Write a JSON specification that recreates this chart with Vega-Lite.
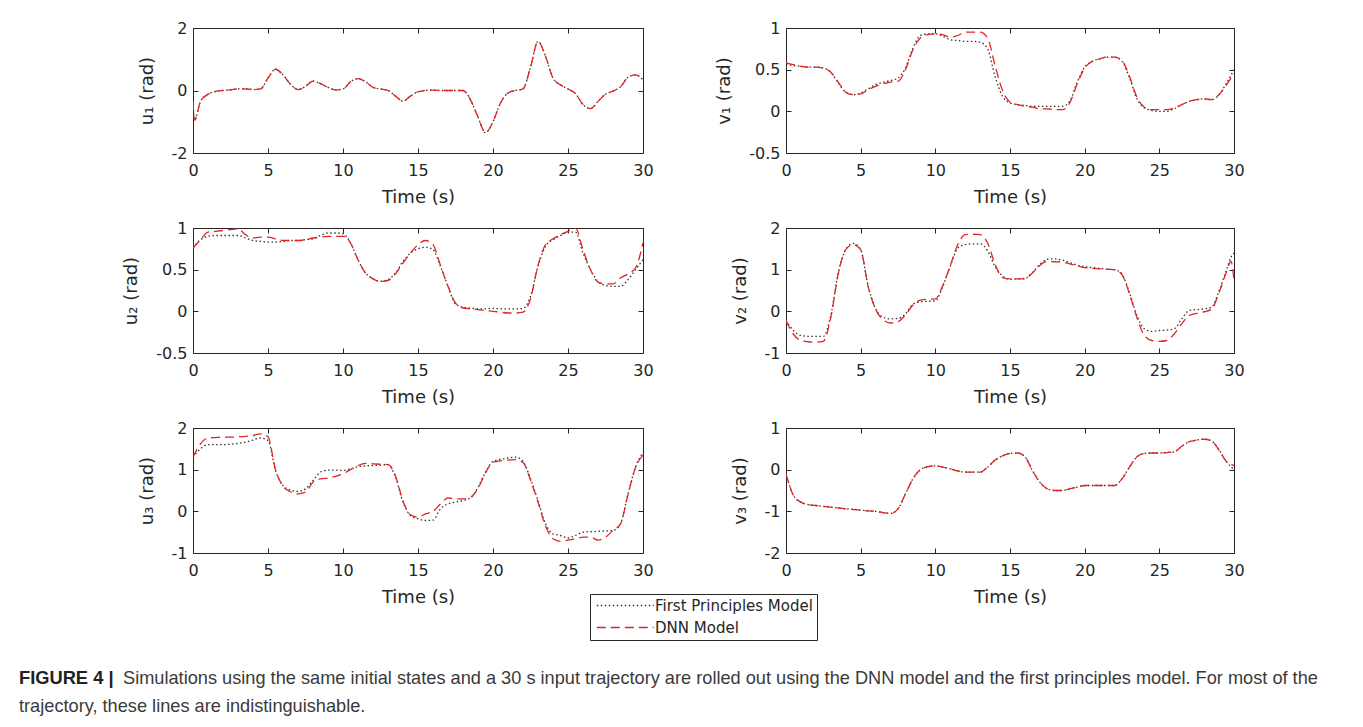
{
"$schema": "https://vega.github.io/schema/vega-lite/v6.json",
"padding": {"left": 19, "top": 19, "right": 5, "bottom": 5},
"datasets": {
"caption": [
{"line": 1, "part": "bold", "text": "FIGURE 4 |"},
{"line": 1, "part": "rest1", "text": "Simulations using the same initial states and a 30 s input trajectory are rolled out using the DNN model and the first principles model. For most of the"},
{"line": 2, "part": "rest2", "text": "trajectory, these lines are indistinguishable."}
],
"sim": [
{"p":"u1","t":0,"fp":-0.35,"dnn":-0.35},{"p":"u1","t":0.1,"fp":-0.95,"dnn":-0.95},{"p":"u1","t":0.5,"fp":-0.35,"dnn":-0.35},{"p":"u1","t":1,"fp":-0.12,"dnn":-0.12},{"p":"u1","t":1.5,"fp":-0.03,"dnn":-0.03},{"p":"u1","t":2,"fp":0,"dnn":0},{"p":"u1","t":2.5,"fp":0.02,"dnn":0.02},{"p":"u1","t":3,"fp":0.05,"dnn":0.05},{"p":"u1","t":3.5,"fp":0.05,"dnn":0.05},{"p":"u1","t":4,"fp":0.03,"dnn":0.03},{"p":"u1","t":4.5,"fp":0.05,"dnn":0.05},{"p":"u1","t":5,"fp":0.4,"dnn":0.4},{"p":"u1","t":5.5,"fp":0.68,"dnn":0.68},{"p":"u1","t":6,"fp":0.5,"dnn":0.5},{"p":"u1","t":6.5,"fp":0.2,"dnn":0.2},{"p":"u1","t":7,"fp":0.03,"dnn":0.03},{"p":"u1","t":7.5,"fp":0.13,"dnn":0.13},{"p":"u1","t":8,"fp":0.3,"dnn":0.3},{"p":"u1","t":8.5,"fp":0.22,"dnn":0.22},{"p":"u1","t":9,"fp":0.1,"dnn":0.1},{"p":"u1","t":9.5,"fp":0.02,"dnn":0.02},{"p":"u1","t":10,"fp":0.05,"dnn":0.05},{"p":"u1","t":10.5,"fp":0.28,"dnn":0.28},{"p":"u1","t":11,"fp":0.38,"dnn":0.38},{"p":"u1","t":11.5,"fp":0.28,"dnn":0.28},{"p":"u1","t":12,"fp":0.1,"dnn":0.1},{"p":"u1","t":12.5,"fp":0.05,"dnn":0.05},{"p":"u1","t":13,"fp":0,"dnn":0},{"p":"u1","t":13.5,"fp":-0.18,"dnn":-0.18},{"p":"u1","t":14,"fp":-0.34,"dnn":-0.34},{"p":"u1","t":14.5,"fp":-0.18,"dnn":-0.18},{"p":"u1","t":15,"fp":-0.04,"dnn":-0.04},{"p":"u1","t":15.5,"fp":0,"dnn":0},{"p":"u1","t":16,"fp":0.01,"dnn":0.01},{"p":"u1","t":16.5,"fp":0,"dnn":0},{"p":"u1","t":17,"fp":0,"dnn":0},{"p":"u1","t":17.5,"fp":0,"dnn":0},{"p":"u1","t":18,"fp":0,"dnn":0},{"p":"u1","t":18.5,"fp":-0.3,"dnn":-0.3},{"p":"u1","t":19,"fp":-0.85,"dnn":-0.85},{"p":"u1","t":19.5,"fp":-1.35,"dnn":-1.35},{"p":"u1","t":20,"fp":-1.0,"dnn":-1.0},{"p":"u1","t":20.5,"fp":-0.4,"dnn":-0.4},{"p":"u1","t":21,"fp":-0.08,"dnn":-0.08},{"p":"u1","t":21.5,"fp":0,"dnn":0},{"p":"u1","t":22,"fp":0.05,"dnn":0.05},{"p":"u1","t":22.5,"fp":0.75,"dnn":0.75},{"p":"u1","t":23,"fp":1.57,"dnn":1.57},{"p":"u1","t":23.5,"fp":1.1,"dnn":1.1},{"p":"u1","t":24,"fp":0.4,"dnn":0.4},{"p":"u1","t":24.5,"fp":0.18,"dnn":0.18},{"p":"u1","t":25,"fp":0.05,"dnn":0.05},{"p":"u1","t":25.5,"fp":-0.1,"dnn":-0.1},{"p":"u1","t":26,"fp":-0.45,"dnn":-0.45},{"p":"u1","t":26.5,"fp":-0.58,"dnn":-0.58},{"p":"u1","t":27,"fp":-0.35,"dnn":-0.35},{"p":"u1","t":27.5,"fp":-0.12,"dnn":-0.12},{"p":"u1","t":28,"fp":-0.02,"dnn":-0.02},{"p":"u1","t":28.5,"fp":0.12,"dnn":0.12},{"p":"u1","t":29,"fp":0.42,"dnn":0.42},{"p":"u1","t":29.5,"fp":0.5,"dnn":0.5},{"p":"u1","t":30,"fp":0.35,"dnn":0.35},
{"p":"v1","t":0,"fp":0.57,"dnn":0.58},{"p":"v1","t":0.5,"fp":0.55,"dnn":0.56},{"p":"v1","t":1,"fp":0.54,"dnn":0.54},{"p":"v1","t":1.5,"fp":0.53,"dnn":0.53},{"p":"v1","t":2,"fp":0.53,"dnn":0.53},{"p":"v1","t":2.5,"fp":0.52,"dnn":0.52},{"p":"v1","t":3,"fp":0.47,"dnn":0.47},{"p":"v1","t":3.5,"fp":0.34,"dnn":0.35},{"p":"v1","t":4,"fp":0.23,"dnn":0.23},{"p":"v1","t":4.5,"fp":0.2,"dnn":0.2},{"p":"v1","t":5,"fp":0.22,"dnn":0.21},{"p":"v1","t":5.5,"fp":0.27,"dnn":0.26},{"p":"v1","t":6,"fp":0.32,"dnn":0.3},{"p":"v1","t":6.5,"fp":0.35,"dnn":0.33},{"p":"v1","t":7,"fp":0.37,"dnn":0.35},{"p":"v1","t":7.5,"fp":0.4,"dnn":0.36},{"p":"v1","t":8,"fp":0.52,"dnn":0.5},{"p":"v1","t":8.5,"fp":0.76,"dnn":0.74},{"p":"v1","t":9,"fp":0.91,"dnn":0.88},{"p":"v1","t":9.5,"fp":0.93,"dnn":0.92},{"p":"v1","t":10,"fp":0.93,"dnn":0.93},{"p":"v1","t":10.5,"fp":0.9,"dnn":0.92},{"p":"v1","t":11,"fp":0.86,"dnn":0.89},{"p":"v1","t":11.5,"fp":0.85,"dnn":0.91},{"p":"v1","t":12,"fp":0.84,"dnn":0.95},{"p":"v1","t":12.5,"fp":0.84,"dnn":0.95},{"p":"v1","t":13,"fp":0.83,"dnn":0.95},{"p":"v1","t":13.5,"fp":0.75,"dnn":0.88},{"p":"v1","t":14,"fp":0.42,"dnn":0.55},{"p":"v1","t":14.5,"fp":0.18,"dnn":0.25},{"p":"v1","t":15,"fp":0.1,"dnn":0.11},{"p":"v1","t":15.5,"fp":0.08,"dnn":0.08},{"p":"v1","t":16,"fp":0.07,"dnn":0.06},{"p":"v1","t":16.5,"fp":0.06,"dnn":0.05},{"p":"v1","t":17,"fp":0.06,"dnn":0.03},{"p":"v1","t":17.5,"fp":0.06,"dnn":0.03},{"p":"v1","t":18,"fp":0.06,"dnn":0.02},{"p":"v1","t":18.5,"fp":0.06,"dnn":0.02},{"p":"v1","t":19,"fp":0.12,"dnn":0.1},{"p":"v1","t":19.5,"fp":0.35,"dnn":0.33},{"p":"v1","t":20,"fp":0.53,"dnn":0.52},{"p":"v1","t":20.5,"fp":0.6,"dnn":0.6},{"p":"v1","t":21,"fp":0.63,"dnn":0.63},{"p":"v1","t":21.5,"fp":0.65,"dnn":0.65},{"p":"v1","t":22,"fp":0.65,"dnn":0.65},{"p":"v1","t":22.5,"fp":0.6,"dnn":0.61},{"p":"v1","t":23,"fp":0.4,"dnn":0.42},{"p":"v1","t":23.5,"fp":0.15,"dnn":0.17},{"p":"v1","t":24,"fp":0.04,"dnn":0.05},{"p":"v1","t":24.5,"fp":0.01,"dnn":0.02},{"p":"v1","t":25,"fp":0,"dnn":0.02},{"p":"v1","t":25.5,"fp":0,"dnn":0.02},{"p":"v1","t":26,"fp":0.03,"dnn":0.04},{"p":"v1","t":26.5,"fp":0.08,"dnn":0.08},{"p":"v1","t":27,"fp":0.12,"dnn":0.12},{"p":"v1","t":27.5,"fp":0.14,"dnn":0.14},{"p":"v1","t":28,"fp":0.15,"dnn":0.15},{"p":"v1","t":28.5,"fp":0.14,"dnn":0.14},{"p":"v1","t":29,"fp":0.2,"dnn":0.2},{"p":"v1","t":29.5,"fp":0.34,"dnn":0.32},{"p":"v1","t":30,"fp":0.5,"dnn":0.45},
{"p":"u2","t":0,"fp":0.76,"dnn":0.76},{"p":"u2","t":0.5,"fp":0.86,"dnn":0.86},{"p":"u2","t":1,"fp":0.9,"dnn":0.95},{"p":"u2","t":1.5,"fp":0.91,"dnn":0.96},{"p":"u2","t":2,"fp":0.91,"dnn":0.97},{"p":"u2","t":2.5,"fp":0.91,"dnn":0.98},{"p":"u2","t":3,"fp":0.91,"dnn":0.99},{"p":"u2","t":3.5,"fp":0.88,"dnn":0.92},{"p":"u2","t":4,"fp":0.85,"dnn":0.88},{"p":"u2","t":4.5,"fp":0.84,"dnn":0.89},{"p":"u2","t":5,"fp":0.83,"dnn":0.89},{"p":"u2","t":5.5,"fp":0.83,"dnn":0.87},{"p":"u2","t":6,"fp":0.84,"dnn":0.85},{"p":"u2","t":6.5,"fp":0.85,"dnn":0.85},{"p":"u2","t":7,"fp":0.85,"dnn":0.85},{"p":"u2","t":7.5,"fp":0.86,"dnn":0.86},{"p":"u2","t":8,"fp":0.87,"dnn":0.88},{"p":"u2","t":8.5,"fp":0.91,"dnn":0.89},{"p":"u2","t":9,"fp":0.94,"dnn":0.9},{"p":"u2","t":9.5,"fp":0.94,"dnn":0.9},{"p":"u2","t":10,"fp":0.93,"dnn":0.9},{"p":"u2","t":10.5,"fp":0.82,"dnn":0.82},{"p":"u2","t":11,"fp":0.62,"dnn":0.62},{"p":"u2","t":11.5,"fp":0.46,"dnn":0.46},{"p":"u2","t":12,"fp":0.39,"dnn":0.39},{"p":"u2","t":12.5,"fp":0.36,"dnn":0.36},{"p":"u2","t":13,"fp":0.38,"dnn":0.37},{"p":"u2","t":13.5,"fp":0.46,"dnn":0.45},{"p":"u2","t":14,"fp":0.6,"dnn":0.58},{"p":"u2","t":14.5,"fp":0.7,"dnn":0.7},{"p":"u2","t":15,"fp":0.75,"dnn":0.8},{"p":"u2","t":15.5,"fp":0.77,"dnn":0.85},{"p":"u2","t":16,"fp":0.74,"dnn":0.8},{"p":"u2","t":16.5,"fp":0.54,"dnn":0.55},{"p":"u2","t":17,"fp":0.3,"dnn":0.3},{"p":"u2","t":17.5,"fp":0.09,"dnn":0.1},{"p":"u2","t":18,"fp":0.05,"dnn":0.04},{"p":"u2","t":18.5,"fp":0.04,"dnn":0.03},{"p":"u2","t":19,"fp":0.03,"dnn":0.02},{"p":"u2","t":19.5,"fp":0.03,"dnn":0.01},{"p":"u2","t":20,"fp":0.035,"dnn":0},{"p":"u2","t":20.5,"fp":0.03,"dnn":-0.01},{"p":"u2","t":21,"fp":0.03,"dnn":-0.02},{"p":"u2","t":21.5,"fp":0.03,"dnn":-0.02},{"p":"u2","t":22,"fp":0.035,"dnn":-0.01},{"p":"u2","t":22.5,"fp":0.18,"dnn":0.15},{"p":"u2","t":23,"fp":0.54,"dnn":0.55},{"p":"u2","t":23.5,"fp":0.78,"dnn":0.8},{"p":"u2","t":24,"fp":0.86,"dnn":0.87},{"p":"u2","t":24.5,"fp":0.91,"dnn":0.92},{"p":"u2","t":25,"fp":0.95,"dnn":0.96},{"p":"u2","t":25.5,"fp":0.95,"dnn":1.0},{"p":"u2","t":26,"fp":0.7,"dnn":0.74},{"p":"u2","t":26.5,"fp":0.5,"dnn":0.5},{"p":"u2","t":27,"fp":0.36,"dnn":0.35},{"p":"u2","t":27.5,"fp":0.31,"dnn":0.33},{"p":"u2","t":28,"fp":0.3,"dnn":0.33},{"p":"u2","t":28.5,"fp":0.3,"dnn":0.4},{"p":"u2","t":29,"fp":0.38,"dnn":0.45},{"p":"u2","t":29.5,"fp":0.5,"dnn":0.52},{"p":"u2","t":30,"fp":0.62,"dnn":0.82},
{"p":"v2","t":0,"fp":-0.22,"dnn":-0.22},{"p":"v2","t":0.5,"fp":-0.46,"dnn":-0.55},{"p":"v2","t":1,"fp":-0.58,"dnn":-0.7},{"p":"v2","t":1.5,"fp":-0.6,"dnn":-0.73},{"p":"v2","t":2,"fp":-0.6,"dnn":-0.74},{"p":"v2","t":2.5,"fp":-0.6,"dnn":-0.72},{"p":"v2","t":3,"fp":-0.1,"dnn":-0.15},{"p":"v2","t":3.5,"fp":0.93,"dnn":0.9},{"p":"v2","t":4,"fp":1.48,"dnn":1.48},{"p":"v2","t":4.5,"fp":1.63,"dnn":1.6},{"p":"v2","t":5,"fp":1.48,"dnn":1.48},{"p":"v2","t":5.5,"fp":0.61,"dnn":0.6},{"p":"v2","t":6,"fp":0.06,"dnn":0.05},{"p":"v2","t":6.5,"fp":-0.14,"dnn":-0.2},{"p":"v2","t":7,"fp":-0.18,"dnn":-0.28},{"p":"v2","t":7.5,"fp":-0.17,"dnn":-0.25},{"p":"v2","t":8,"fp":-0.06,"dnn":-0.08},{"p":"v2","t":8.5,"fp":0.17,"dnn":0.15},{"p":"v2","t":9,"fp":0.23,"dnn":0.27},{"p":"v2","t":9.5,"fp":0.24,"dnn":0.29},{"p":"v2","t":10,"fp":0.25,"dnn":0.3},{"p":"v2","t":10.5,"fp":0.6,"dnn":0.62},{"p":"v2","t":11,"fp":1.08,"dnn":1.1},{"p":"v2","t":11.5,"fp":1.52,"dnn":1.6},{"p":"v2","t":12,"fp":1.6,"dnn":1.84},{"p":"v2","t":12.5,"fp":1.62,"dnn":1.85},{"p":"v2","t":13,"fp":1.62,"dnn":1.84},{"p":"v2","t":13.5,"fp":1.45,"dnn":1.64},{"p":"v2","t":14,"fp":1.08,"dnn":1.13},{"p":"v2","t":14.5,"fp":0.85,"dnn":0.81},{"p":"v2","t":15,"fp":0.77,"dnn":0.78},{"p":"v2","t":15.5,"fp":0.78,"dnn":0.78},{"p":"v2","t":16,"fp":0.79,"dnn":0.78},{"p":"v2","t":16.5,"fp":0.93,"dnn":0.92},{"p":"v2","t":17,"fp":1.13,"dnn":1.1},{"p":"v2","t":17.5,"fp":1.25,"dnn":1.2},{"p":"v2","t":18,"fp":1.26,"dnn":1.19},{"p":"v2","t":18.5,"fp":1.23,"dnn":1.18},{"p":"v2","t":19,"fp":1.17,"dnn":1.14},{"p":"v2","t":19.5,"fp":1.11,"dnn":1.09},{"p":"v2","t":20,"fp":1.07,"dnn":1.05},{"p":"v2","t":20.5,"fp":1.05,"dnn":1.03},{"p":"v2","t":21,"fp":1.03,"dnn":1.02},{"p":"v2","t":21.5,"fp":1.01,"dnn":1.01},{"p":"v2","t":22,"fp":1.0,"dnn":1.0},{"p":"v2","t":22.5,"fp":0.89,"dnn":0.88},{"p":"v2","t":23,"fp":0.45,"dnn":0.42},{"p":"v2","t":23.5,"fp":-0.1,"dnn":-0.15},{"p":"v2","t":24,"fp":-0.42,"dnn":-0.58},{"p":"v2","t":24.5,"fp":-0.48,"dnn":-0.7},{"p":"v2","t":25,"fp":-0.46,"dnn":-0.72},{"p":"v2","t":25.5,"fp":-0.45,"dnn":-0.7},{"p":"v2","t":26,"fp":-0.42,"dnn":-0.54},{"p":"v2","t":26.5,"fp":-0.18,"dnn":-0.3},{"p":"v2","t":27,"fp":0.02,"dnn":-0.1},{"p":"v2","t":27.5,"fp":0.04,"dnn":-0.05},{"p":"v2","t":28,"fp":0.06,"dnn":-0.01},{"p":"v2","t":28.5,"fp":0.1,"dnn":0.05},{"p":"v2","t":29,"fp":0.49,"dnn":0.45},{"p":"v2","t":29.5,"fp":1.0,"dnn":0.95},{"p":"v2","t":29.8,"fp":1.3,"dnn":1.2},{"p":"v2","t":30,"fp":1.4,"dnn":0.75},
{"p":"u3","t":0,"fp":1.3,"dnn":1.3},{"p":"u3","t":0.5,"fp":1.5,"dnn":1.62},{"p":"u3","t":1,"fp":1.6,"dnn":1.76},{"p":"u3","t":1.5,"fp":1.6,"dnn":1.77},{"p":"u3","t":2,"fp":1.6,"dnn":1.78},{"p":"u3","t":2.5,"fp":1.61,"dnn":1.78},{"p":"u3","t":3,"fp":1.63,"dnn":1.79},{"p":"u3","t":3.5,"fp":1.66,"dnn":1.8},{"p":"u3","t":4,"fp":1.71,"dnn":1.82},{"p":"u3","t":4.5,"fp":1.76,"dnn":1.86},{"p":"u3","t":5,"fp":1.7,"dnn":1.79},{"p":"u3","t":5.5,"fp":0.98,"dnn":1.0},{"p":"u3","t":6,"fp":0.62,"dnn":0.6},{"p":"u3","t":6.5,"fp":0.51,"dnn":0.47},{"p":"u3","t":7,"fp":0.48,"dnn":0.42},{"p":"u3","t":7.5,"fp":0.54,"dnn":0.46},{"p":"u3","t":8,"fp":0.74,"dnn":0.7},{"p":"u3","t":8.5,"fp":0.94,"dnn":0.78},{"p":"u3","t":9,"fp":0.99,"dnn":0.8},{"p":"u3","t":9.5,"fp":0.99,"dnn":0.84},{"p":"u3","t":10,"fp":0.98,"dnn":0.9},{"p":"u3","t":10.5,"fp":1.02,"dnn":1.0},{"p":"u3","t":11,"fp":1.07,"dnn":1.1},{"p":"u3","t":11.5,"fp":1.09,"dnn":1.15},{"p":"u3","t":12,"fp":1.1,"dnn":1.14},{"p":"u3","t":12.5,"fp":1.11,"dnn":1.13},{"p":"u3","t":13,"fp":1.12,"dnn":1.12},{"p":"u3","t":13.5,"fp":0.82,"dnn":0.85},{"p":"u3","t":14,"fp":0.22,"dnn":0.25},{"p":"u3","t":14.5,"fp":-0.1,"dnn":-0.08},{"p":"u3","t":15,"fp":-0.18,"dnn":-0.14},{"p":"u3","t":15.5,"fp":-0.22,"dnn":-0.06},{"p":"u3","t":16,"fp":-0.21,"dnn":0},{"p":"u3","t":16.5,"fp":0.06,"dnn":0.18},{"p":"u3","t":17,"fp":0.18,"dnn":0.32},{"p":"u3","t":17.5,"fp":0.22,"dnn":0.3},{"p":"u3","t":18,"fp":0.26,"dnn":0.3},{"p":"u3","t":18.5,"fp":0.32,"dnn":0.34},{"p":"u3","t":19,"fp":0.58,"dnn":0.55},{"p":"u3","t":19.5,"fp":0.94,"dnn":0.92},{"p":"u3","t":20,"fp":1.2,"dnn":1.18},{"p":"u3","t":20.5,"fp":1.25,"dnn":1.21},{"p":"u3","t":21,"fp":1.28,"dnn":1.23},{"p":"u3","t":21.5,"fp":1.3,"dnn":1.24},{"p":"u3","t":22,"fp":1.2,"dnn":1.17},{"p":"u3","t":22.5,"fp":0.78,"dnn":0.75},{"p":"u3","t":23,"fp":0.26,"dnn":0.22},{"p":"u3","t":23.5,"fp":-0.3,"dnn":-0.35},{"p":"u3","t":24,"fp":-0.54,"dnn":-0.66},{"p":"u3","t":24.5,"fp":-0.58,"dnn":-0.72},{"p":"u3","t":25,"fp":-0.64,"dnn":-0.69},{"p":"u3","t":25.5,"fp":-0.58,"dnn":-0.66},{"p":"u3","t":26,"fp":-0.5,"dnn":-0.62},{"p":"u3","t":26.5,"fp":-0.49,"dnn":-0.62},{"p":"u3","t":27,"fp":-0.48,"dnn":-0.69},{"p":"u3","t":27.5,"fp":-0.47,"dnn":-0.62},{"p":"u3","t":28,"fp":-0.46,"dnn":-0.46},{"p":"u3","t":28.5,"fp":-0.3,"dnn":-0.3},{"p":"u3","t":29,"fp":0.42,"dnn":0.4},{"p":"u3","t":29.5,"fp":1.06,"dnn":1.05},{"p":"u3","t":30,"fp":1.42,"dnn":1.35},
{"p":"v3","t":0,"fp":-0.1,"dnn":-0.1},{"p":"v3","t":0.5,"fp":-0.62,"dnn":-0.62},{"p":"v3","t":1,"fp":-0.78,"dnn":-0.78},{"p":"v3","t":1.5,"fp":-0.84,"dnn":-0.84},{"p":"v3","t":2,"fp":-0.86,"dnn":-0.86},{"p":"v3","t":2.5,"fp":-0.88,"dnn":-0.88},{"p":"v3","t":3,"fp":-0.9,"dnn":-0.9},{"p":"v3","t":3.5,"fp":-0.92,"dnn":-0.92},{"p":"v3","t":4,"fp":-0.94,"dnn":-0.94},{"p":"v3","t":4.5,"fp":-0.95,"dnn":-0.96},{"p":"v3","t":5,"fp":-0.97,"dnn":-0.97},{"p":"v3","t":5.5,"fp":-0.99,"dnn":-0.99},{"p":"v3","t":6,"fp":-1.0,"dnn":-1.0},{"p":"v3","t":6.5,"fp":-1.03,"dnn":-1.03},{"p":"v3","t":7,"fp":-1.05,"dnn":-1.05},{"p":"v3","t":7.5,"fp":-0.94,"dnn":-0.94},{"p":"v3","t":8,"fp":-0.58,"dnn":-0.58},{"p":"v3","t":8.5,"fp":-0.22,"dnn":-0.22},{"p":"v3","t":9,"fp":0,"dnn":0},{"p":"v3","t":9.5,"fp":0.07,"dnn":0.07},{"p":"v3","t":10,"fp":0.09,"dnn":0.09},{"p":"v3","t":10.5,"fp":0.06,"dnn":0.06},{"p":"v3","t":11,"fp":0.02,"dnn":0.02},{"p":"v3","t":11.5,"fp":-0.03,"dnn":-0.03},{"p":"v3","t":12,"fp":-0.06,"dnn":-0.06},{"p":"v3","t":12.5,"fp":-0.06,"dnn":-0.06},{"p":"v3","t":13,"fp":-0.06,"dnn":-0.06},{"p":"v3","t":13.5,"fp":0.06,"dnn":0.06},{"p":"v3","t":14,"fp":0.23,"dnn":0.23},{"p":"v3","t":14.5,"fp":0.33,"dnn":0.33},{"p":"v3","t":15,"fp":0.39,"dnn":0.39},{"p":"v3","t":15.5,"fp":0.4,"dnn":0.4},{"p":"v3","t":16,"fp":0.31,"dnn":0.31},{"p":"v3","t":16.5,"fp":-0.02,"dnn":-0.02},{"p":"v3","t":17,"fp":-0.3,"dnn":-0.3},{"p":"v3","t":17.5,"fp":-0.46,"dnn":-0.46},{"p":"v3","t":18,"fp":-0.5,"dnn":-0.5},{"p":"v3","t":18.5,"fp":-0.5,"dnn":-0.5},{"p":"v3","t":19,"fp":-0.46,"dnn":-0.46},{"p":"v3","t":19.5,"fp":-0.42,"dnn":-0.42},{"p":"v3","t":20,"fp":-0.38,"dnn":-0.38},{"p":"v3","t":20.5,"fp":-0.38,"dnn":-0.38},{"p":"v3","t":21,"fp":-0.38,"dnn":-0.38},{"p":"v3","t":21.5,"fp":-0.38,"dnn":-0.38},{"p":"v3","t":22,"fp":-0.38,"dnn":-0.38},{"p":"v3","t":22.5,"fp":-0.22,"dnn":-0.22},{"p":"v3","t":23,"fp":0.06,"dnn":0.06},{"p":"v3","t":23.5,"fp":0.31,"dnn":0.31},{"p":"v3","t":24,"fp":0.39,"dnn":0.39},{"p":"v3","t":24.5,"fp":0.4,"dnn":0.4},{"p":"v3","t":25,"fp":0.4,"dnn":0.4},{"p":"v3","t":25.5,"fp":0.41,"dnn":0.41},{"p":"v3","t":26,"fp":0.43,"dnn":0.43},{"p":"v3","t":26.5,"fp":0.56,"dnn":0.56},{"p":"v3","t":27,"fp":0.67,"dnn":0.67},{"p":"v3","t":27.5,"fp":0.71,"dnn":0.71},{"p":"v3","t":28,"fp":0.73,"dnn":0.73},{"p":"v3","t":28.5,"fp":0.69,"dnn":0.69},{"p":"v3","t":29,"fp":0.47,"dnn":0.47},{"p":"v3","t":29.5,"fp":0.19,"dnn":0.19},{"p":"v3","t":30,"fp":0,"dnn":0.1}
]
},
"spacing": 58,
"vconcat": [
{
"columns": 2,
"bounds": "flush",
"spacing": {"row": 75, "column": 143},
"concat": [
{"width": 450, "height": 125, "data": {"name": "sim"},
 "transform": [{"filter": "datum.p == 'u1'"}, {"fold": ["fp", "dnn"], "as": ["model", "value"]}],
 "layer": [
  {"mark": {"type": "line", "interpolate": "monotone", "strokeWidth": 1.3, "clip": true},
   "encoding": {
    "x": {"field": "t", "type": "quantitative", "scale": {"domain": [0, 30], "nice": false}, "axis": {"values": [0,5,10,15,20,25,30], "title": "Time (s)"}},
    "y": {"field": "value", "type": "quantitative", "scale": {"domain": [-2, 2], "nice": false, "zero": false}, "axis": {"values": [-2,0,2], "title": "u₁ (rad)", "labelExpr": "'' + datum.value"}},
    "color": {"field": "model", "type": "nominal", "scale": {"domain": ["fp", "dnn"], "range": ["#333333", "#e32424"]}, "legend": {"labelExpr": "datum.label == 'fp' ? 'First Principles Model' : 'DNN Model'"}},
    "strokeDash": {"field": "model", "type": "nominal", "scale": {"domain": ["fp", "dnn"], "range": [[1.5, 2.5], [9, 5]]}, "legend": {"labelExpr": "datum.label == 'fp' ? 'First Principles Model' : 'DNN Model'"}}
   }},
  {"mark": {"type": "point", "opacity": 0},
   "encoding": {
    "x": {"field": "t", "type": "quantitative", "axis": {"orient": "top", "values": [0,5,10,15,20,25,30], "labels": false, "title": null}},
    "y": {"field": "value", "type": "quantitative", "axis": {"orient": "right", "values": [-2,0,2], "labels": false, "title": null}}
   }}
 ],
 "resolve": {"axis": {"x": "independent", "y": "independent"}}
},
{"width": 448, "height": 125, "data": {"name": "sim"},
 "transform": [{"filter": "datum.p == 'v1'"}, {"fold": ["fp", "dnn"], "as": ["model", "value"]}],
 "layer": [
  {"mark": {"type": "line", "interpolate": "monotone", "strokeWidth": 1.3, "clip": true},
   "encoding": {
    "x": {"field": "t", "type": "quantitative", "scale": {"domain": [0, 30], "nice": false}, "axis": {"values": [0,5,10,15,20,25,30], "title": "Time (s)"}},
    "y": {"field": "value", "type": "quantitative", "scale": {"domain": [-0.5, 1], "nice": false, "zero": false}, "axis": {"values": [-0.5,0,0.5,1], "title": "v₁ (rad)", "labelExpr": "'' + datum.value"}},
    "color": {"field": "model", "type": "nominal", "scale": {"domain": ["fp", "dnn"], "range": ["#333333", "#e32424"]}, "legend": {"labelExpr": "datum.label == 'fp' ? 'First Principles Model' : 'DNN Model'"}},
    "strokeDash": {"field": "model", "type": "nominal", "scale": {"domain": ["fp", "dnn"], "range": [[1.5, 2.5], [9, 5]]}, "legend": {"labelExpr": "datum.label == 'fp' ? 'First Principles Model' : 'DNN Model'"}}
   }},
  {"mark": {"type": "point", "opacity": 0},
   "encoding": {
    "x": {"field": "t", "type": "quantitative", "axis": {"orient": "top", "values": [0,5,10,15,20,25,30], "labels": false, "title": null}},
    "y": {"field": "value", "type": "quantitative", "axis": {"orient": "right", "values": [-0.5,0,0.5,1], "labels": false, "title": null}}
   }}
 ],
 "resolve": {"axis": {"x": "independent", "y": "independent"}}
},
{"width": 450, "height": 125, "data": {"name": "sim"},
 "transform": [{"filter": "datum.p == 'u2'"}, {"fold": ["fp", "dnn"], "as": ["model", "value"]}],
 "layer": [
  {"mark": {"type": "line", "interpolate": "monotone", "strokeWidth": 1.3, "clip": true},
   "encoding": {
    "x": {"field": "t", "type": "quantitative", "scale": {"domain": [0, 30], "nice": false}, "axis": {"values": [0,5,10,15,20,25,30], "title": "Time (s)"}},
    "y": {"field": "value", "type": "quantitative", "scale": {"domain": [-0.5, 1], "nice": false, "zero": false}, "axis": {"values": [-0.5,0,0.5,1], "title": "u₂ (rad)", "labelExpr": "'' + datum.value"}},
    "color": {"field": "model", "type": "nominal", "scale": {"domain": ["fp", "dnn"], "range": ["#333333", "#e32424"]}, "legend": {"labelExpr": "datum.label == 'fp' ? 'First Principles Model' : 'DNN Model'"}},
    "strokeDash": {"field": "model", "type": "nominal", "scale": {"domain": ["fp", "dnn"], "range": [[1.5, 2.5], [9, 5]]}, "legend": {"labelExpr": "datum.label == 'fp' ? 'First Principles Model' : 'DNN Model'"}}
   }},
  {"mark": {"type": "point", "opacity": 0},
   "encoding": {
    "x": {"field": "t", "type": "quantitative", "axis": {"orient": "top", "values": [0,5,10,15,20,25,30], "labels": false, "title": null}},
    "y": {"field": "value", "type": "quantitative", "axis": {"orient": "right", "values": [-0.5,0,0.5,1], "labels": false, "title": null}}
   }}
 ],
 "resolve": {"axis": {"x": "independent", "y": "independent"}}
},
{"width": 448, "height": 125, "data": {"name": "sim"},
 "transform": [{"filter": "datum.p == 'v2'"}, {"fold": ["fp", "dnn"], "as": ["model", "value"]}],
 "layer": [
  {"mark": {"type": "line", "interpolate": "monotone", "strokeWidth": 1.3, "clip": true},
   "encoding": {
    "x": {"field": "t", "type": "quantitative", "scale": {"domain": [0, 30], "nice": false}, "axis": {"values": [0,5,10,15,20,25,30], "title": "Time (s)"}},
    "y": {"field": "value", "type": "quantitative", "scale": {"domain": [-1, 2], "nice": false, "zero": false}, "axis": {"values": [-1,0,1,2], "title": "v₂ (rad)", "labelExpr": "'' + datum.value"}},
    "color": {"field": "model", "type": "nominal", "scale": {"domain": ["fp", "dnn"], "range": ["#333333", "#e32424"]}, "legend": {"labelExpr": "datum.label == 'fp' ? 'First Principles Model' : 'DNN Model'"}},
    "strokeDash": {"field": "model", "type": "nominal", "scale": {"domain": ["fp", "dnn"], "range": [[1.5, 2.5], [9, 5]]}, "legend": {"labelExpr": "datum.label == 'fp' ? 'First Principles Model' : 'DNN Model'"}}
   }},
  {"mark": {"type": "point", "opacity": 0},
   "encoding": {
    "x": {"field": "t", "type": "quantitative", "axis": {"orient": "top", "values": [0,5,10,15,20,25,30], "labels": false, "title": null}},
    "y": {"field": "value", "type": "quantitative", "axis": {"orient": "right", "values": [-1,0,1,2], "labels": false, "title": null}}
   }}
 ],
 "resolve": {"axis": {"x": "independent", "y": "independent"}}
},
{"width": 450, "height": 125, "data": {"name": "sim"},
 "transform": [{"filter": "datum.p == 'u3'"}, {"fold": ["fp", "dnn"], "as": ["model", "value"]}],
 "layer": [
  {"mark": {"type": "line", "interpolate": "monotone", "strokeWidth": 1.3, "clip": true},
   "encoding": {
    "x": {"field": "t", "type": "quantitative", "scale": {"domain": [0, 30], "nice": false}, "axis": {"values": [0,5,10,15,20,25,30], "title": "Time (s)"}},
    "y": {"field": "value", "type": "quantitative", "scale": {"domain": [-1, 2], "nice": false, "zero": false}, "axis": {"values": [-1,0,1,2], "title": "u₃ (rad)", "labelExpr": "'' + datum.value"}},
    "color": {"field": "model", "type": "nominal", "scale": {"domain": ["fp", "dnn"], "range": ["#333333", "#e32424"]}, "legend": {"labelExpr": "datum.label == 'fp' ? 'First Principles Model' : 'DNN Model'"}},
    "strokeDash": {"field": "model", "type": "nominal", "scale": {"domain": ["fp", "dnn"], "range": [[1.5, 2.5], [9, 5]]}, "legend": {"labelExpr": "datum.label == 'fp' ? 'First Principles Model' : 'DNN Model'"}}
   }},
  {"mark": {"type": "point", "opacity": 0},
   "encoding": {
    "x": {"field": "t", "type": "quantitative", "axis": {"orient": "top", "values": [0,5,10,15,20,25,30], "labels": false, "title": null}},
    "y": {"field": "value", "type": "quantitative", "axis": {"orient": "right", "values": [-1,0,1,2], "labels": false, "title": null}}
   }}
 ],
 "resolve": {"axis": {"x": "independent", "y": "independent"}}
},
{"width": 448, "height": 125, "data": {"name": "sim"},
 "transform": [{"filter": "datum.p == 'v3'"}, {"fold": ["fp", "dnn"], "as": ["model", "value"]}],
 "layer": [
  {"mark": {"type": "line", "interpolate": "monotone", "strokeWidth": 1.3, "clip": true},
   "encoding": {
    "x": {"field": "t", "type": "quantitative", "scale": {"domain": [0, 30], "nice": false}, "axis": {"values": [0,5,10,15,20,25,30], "title": "Time (s)"}},
    "y": {"field": "value", "type": "quantitative", "scale": {"domain": [-2, 1], "nice": false, "zero": false}, "axis": {"values": [-2,-1,0,1], "title": "v₃ (rad)", "labelExpr": "'' + datum.value"}},
    "color": {"field": "model", "type": "nominal", "scale": {"domain": ["fp", "dnn"], "range": ["#333333", "#e32424"]}, "legend": {"labelExpr": "datum.label == 'fp' ? 'First Principles Model' : 'DNN Model'"}},
    "strokeDash": {"field": "model", "type": "nominal", "scale": {"domain": ["fp", "dnn"], "range": [[1.5, 2.5], [9, 5]]}, "legend": {"labelExpr": "datum.label == 'fp' ? 'First Principles Model' : 'DNN Model'"}}
   }},
  {"mark": {"type": "point", "opacity": 0},
   "encoding": {
    "x": {"field": "t", "type": "quantitative", "axis": {"orient": "top", "values": [0,5,10,15,20,25,30], "labels": false, "title": null}},
    "y": {"field": "value", "type": "quantitative", "axis": {"orient": "right", "values": [-2,-1,0,1], "labels": false, "title": null}}
   }}
 ],
 "resolve": {"axis": {"x": "independent", "y": "independent"}}
}
]
},
{
"width": 1043, "height": 56,
"data": {"name": "caption"},
"view": {"stroke": null},
"encoding": {
 "y": {"field": "line", "type": "ordinal", "axis": null, "scale": {"type": "point", "padding": 0.5}},
 "text": {"field": "text"}
},
"layer": [
 {"transform": [{"filter": "datum.part == 'bold'"}], "mark": {"type": "text", "align": "left", "baseline": "middle", "x": -174, "font": "Liberation Sans", "fontSize": 18.3, "fontWeight": "bold", "color": "#222222"}},
 {"transform": [{"filter": "datum.part == 'rest1'"}], "mark": {"type": "text", "align": "left", "baseline": "middle", "x": -174, "dx": 104, "font": "Liberation Sans", "fontSize": 18.2, "color": "#3a3a3a"}},
 {"transform": [{"filter": "datum.part == 'rest2'"}], "mark": {"type": "text", "align": "left", "baseline": "middle", "x": -174, "font": "Liberation Sans", "fontSize": 18.2, "color": "#3a3a3a"}}
]
}
],
"config": {
 "view": {"stroke": "#262626", "strokeWidth": 1},
 "axis": {"domain": false, "grid": false, "ticks": true, "tickSize": -5, "tickColor": "#262626", "tickWidth": 1,
  "labelFont": "DejaVu Sans", "labelFontSize": 16, "labelColor": "#262626", "labelFlush": false, "labelOverlap": false, "labelBound": false,
  "titleFont": "DejaVu Sans", "titleFontSize": 18, "titleFontWeight": "normal", "titleColor": "#262626"},
 "axisX": {"labelPadding": 14, "titlePadding": 10},
 "axisY": {"labelPadding": 11, "titlePadding": 15},
 "legend": {"orient": "none", "legendX": 397, "legendY": 566, "title": null, "strokeColor": "#262626", "fillColor": "white", "padding": 4,
  "labelFont": "DejaVu Sans", "labelFontSize": 15, "labelColor": "#262626", "symbolType": "M-1,0H11", "symbolSize": 90, "symbolStrokeWidth": 1.3,
  "labelOffset": 46, "rowPadding": 6}
}
}
